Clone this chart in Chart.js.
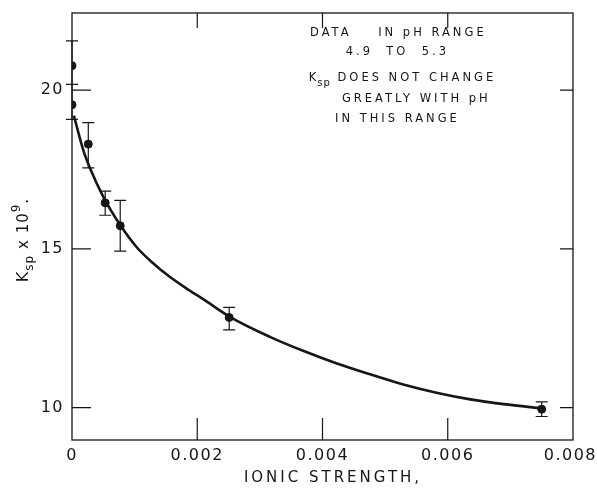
<!DOCTYPE html>
<html>
<head>
<meta charset="utf-8">
<script src="https://cdn.jsdelivr.net/npm/chart.js@4.4.1/dist/chart.umd.min.js"></script>
<style>
  html, body { margin: 0; padding: 0; background: #fff; }
  #wrap { width: 597px; height: 489px; }
</style>
</head>
<body>
<div id="wrap"><canvas id="ksp" width="597" height="489"></canvas></div>
<script>
// measured points: ionic strength vs Ksp x 10^9, with error bar ends
const ionicStrength = [0, 0, 0.00026, 0.00053, 0.00077, 0.00251, 0.0075];
const kspValues = [20.77, 19.54, 18.30, 16.45, 15.73, 12.84, 9.95];
const kspHigh = [21.55, 20.18, 18.98, 16.82, 16.53, 13.16, 10.18];
const kspLow = [20.18, 19.08, 17.55, 16.06, 14.93, 12.45, 9.72];

// smooth curve
const curveX = [0.00003, 0.00018, 0.00029, 0.0005, 0.00077, 0.00103, 0.0013, 0.00156, 0.00183,
                0.0021, 0.00252, 0.00316, 0.00369, 0.00423, 0.00476, 0.00529, 0.00582,
                0.00636, 0.00689, 0.00753];
const curveY = [19.20, 18.11, 17.53, 16.64, 15.75, 15.06, 14.54, 14.12, 13.75,
                13.41, 12.86, 12.23, 11.79, 11.39, 11.05, 10.73, 10.47,
                10.26, 10.11, 9.97];

const xTicks = [0, 0.002, 0.004, 0.006, 0.008];
const yTicks = [10, 15, 20];

const notes = [
    { text: 'DATA    IN pH RANGE', x: 0.00380, y: 21.80 },
    { text: '4.9  TO  5.3', x: 0.00437, y: 21.20 },
    { text: ' DOES NOT CHANGE', x: 0.00378, y: 20.38, ksp: true },
    { text: 'GREATLY WITH pH', x: 0.00431, y: 19.73 },
    { text: 'IN THIS RANGE', x: 0.00420, y: 19.10 }
];

const ink = '#161616';

const framePlugin = {
    id: 'frame',
    afterDatasetsDraw(chart) {
        const { ctx, chartArea: a, scales } = chart;
        const xs = scales.x, ys = scales.y;
        ctx.save();
        ctx.strokeStyle = ink;
        ctx.lineWidth = 1.3;
        ctx.strokeRect(a.left, a.top, a.right - a.left, a.bottom - a.top);

        // inward tick marks
        ctx.lineWidth = 1.2;
        ctx.beginPath();
        yTicks.forEach(v => {
            const py = ys.getPixelForValue(v);
            ctx.moveTo(a.left, py); ctx.lineTo(a.left + 19, py);
            ctx.moveTo(a.right, py); ctx.lineTo(a.right - 13, py);
        });
        xTicks.slice(1, 4).forEach(v => {
            const px = xs.getPixelForValue(v);
            ctx.moveTo(px, a.bottom); ctx.lineTo(px, a.bottom - 22);
            ctx.moveTo(px, a.top); ctx.lineTo(px, a.top + 15);
        });
        ctx.stroke();

        // error bars
        ctx.beginPath();
        ionicStrength.forEach((v, i) => {
            const px = xs.getPixelForValue(v);
            const hi = ys.getPixelForValue(kspHigh[i]);
            const lo = ys.getPixelForValue(kspLow[i]);
            ctx.moveTo(px, hi); ctx.lineTo(px, lo);
            ctx.moveTo(px - 6, hi); ctx.lineTo(px + 6, hi);
            ctx.moveTo(px - 6, lo); ctx.lineTo(px + 6, lo);
        });
        ctx.stroke();

        ctx.fillStyle = ink;
        ctx.textBaseline = 'middle';

        // tick labels
        ctx.font = '16px "DejaVu Sans"';
        ctx.letterSpacing = '1.5px';
        ctx.textAlign = 'center';
        xTicks.forEach(v => {
            const label = v === 0 ? '0' : v.toFixed(3);
            let px = xs.getPixelForValue(v);
            const half = ctx.measureText(label).width / 2;
            px = Math.min(px, chart.width - half);
            ctx.fillText(label, px, a.bottom + 16);
        });
        ctx.textAlign = 'right';
        yTicks.forEach(v => {
            ctx.fillText(String(v), a.left - 8, ys.getPixelForValue(v));
        });

        // notes
        ctx.textAlign = 'left';
        notes.forEach(n => {
            let px = xs.getPixelForValue(n.x);
            const py = ys.getPixelForValue(n.y);
            ctx.font = '11.5px "DejaVu Sans"';
            if (n.ksp) {
                ctx.letterSpacing = '1px';
                ctx.fillText('K', px, py);
                px += ctx.measureText('K').width;
                ctx.font = '10px "DejaVu Sans"';
                ctx.fillText('sp', px, py + 5);
                px += ctx.measureText('sp').width;
                ctx.font = '11.5px "DejaVu Sans"';
            }
            ctx.letterSpacing = '3px';
            ctx.fillText(n.text, px, py);
        });

        // axis titles
        ctx.letterSpacing = '3px';
        ctx.font = '15px "DejaVu Sans"';
        ctx.textAlign = 'center';
        ctx.fillText('IONIC STRENGTH,', 333, 478);

        ctx.translate(24, 240);
        ctx.rotate(-Math.PI / 2);
        ctx.letterSpacing = '1px';
        ctx.textAlign = 'left';
        const parts = [
            { t: 'K', f: 16, dy: 0 },
            { t: 'sp', f: 12, dy: 6 },
            { t: ' x 10', f: 15, dy: 0 },
            { t: '9', f: 12, dy: -7 },
            { t: '.', f: 15, dy: 0 }
        ];
        let total = 0;
        parts.forEach(p => { ctx.font = p.f + 'px "DejaVu Sans"'; total += ctx.measureText(p.t).width; });
        let cx = -total / 2;
        parts.forEach(p => {
            ctx.font = p.f + 'px "DejaVu Sans"';
            ctx.fillText(p.t, cx, p.dy);
            cx += ctx.measureText(p.t).width;
        });
        ctx.restore();
    }
};

const ctx = document.getElementById('ksp').getContext('2d');
const kspChart = new Chart(ctx, {
    type: 'scatter',
    data: {
        datasets: [
            {
                type: 'line',
                label: 'curve',
                data: curveX.map((x, i) => ({ x: x, y: curveY[i] })),
                borderColor: ink,
                borderWidth: 2.6,
                pointRadius: 0,
                fill: false,
                cubicInterpolationMode: 'monotone'
            },
            {
                label: 'Ksp',
                data: ionicStrength.map((x, i) => ({ x: x, y: kspValues[i] })),
                backgroundColor: ink,
                borderColor: ink,
                pointRadius: 4,
                pointHoverRadius: 4
            }
        ]
    },
    options: {
        responsive: false,
        animation: false,
        devicePixelRatio: 1,
        layout: { padding: { top: 13, right: 24, left: 0, bottom: 0 } },
        plugins: {
            legend: { display: false },
            tooltip: { enabled: false }
        },
        scales: {
            x: {
                type: 'linear',
                min: 0,
                max: 0.008,
                grid: { display: false, drawTicks: false },
                border: { display: false },
                ticks: { display: false },
                afterFit(scale) { scale.height = 49; }
            },
            y: {
                min: 8.98,
                max: 22.43,
                grid: { display: false, drawTicks: false },
                border: { display: false },
                ticks: { display: false },
                afterFit(scale) { scale.width = 72; }
            }
        }
    },
    plugins: [framePlugin]
});
</script>
</body>
</html>
